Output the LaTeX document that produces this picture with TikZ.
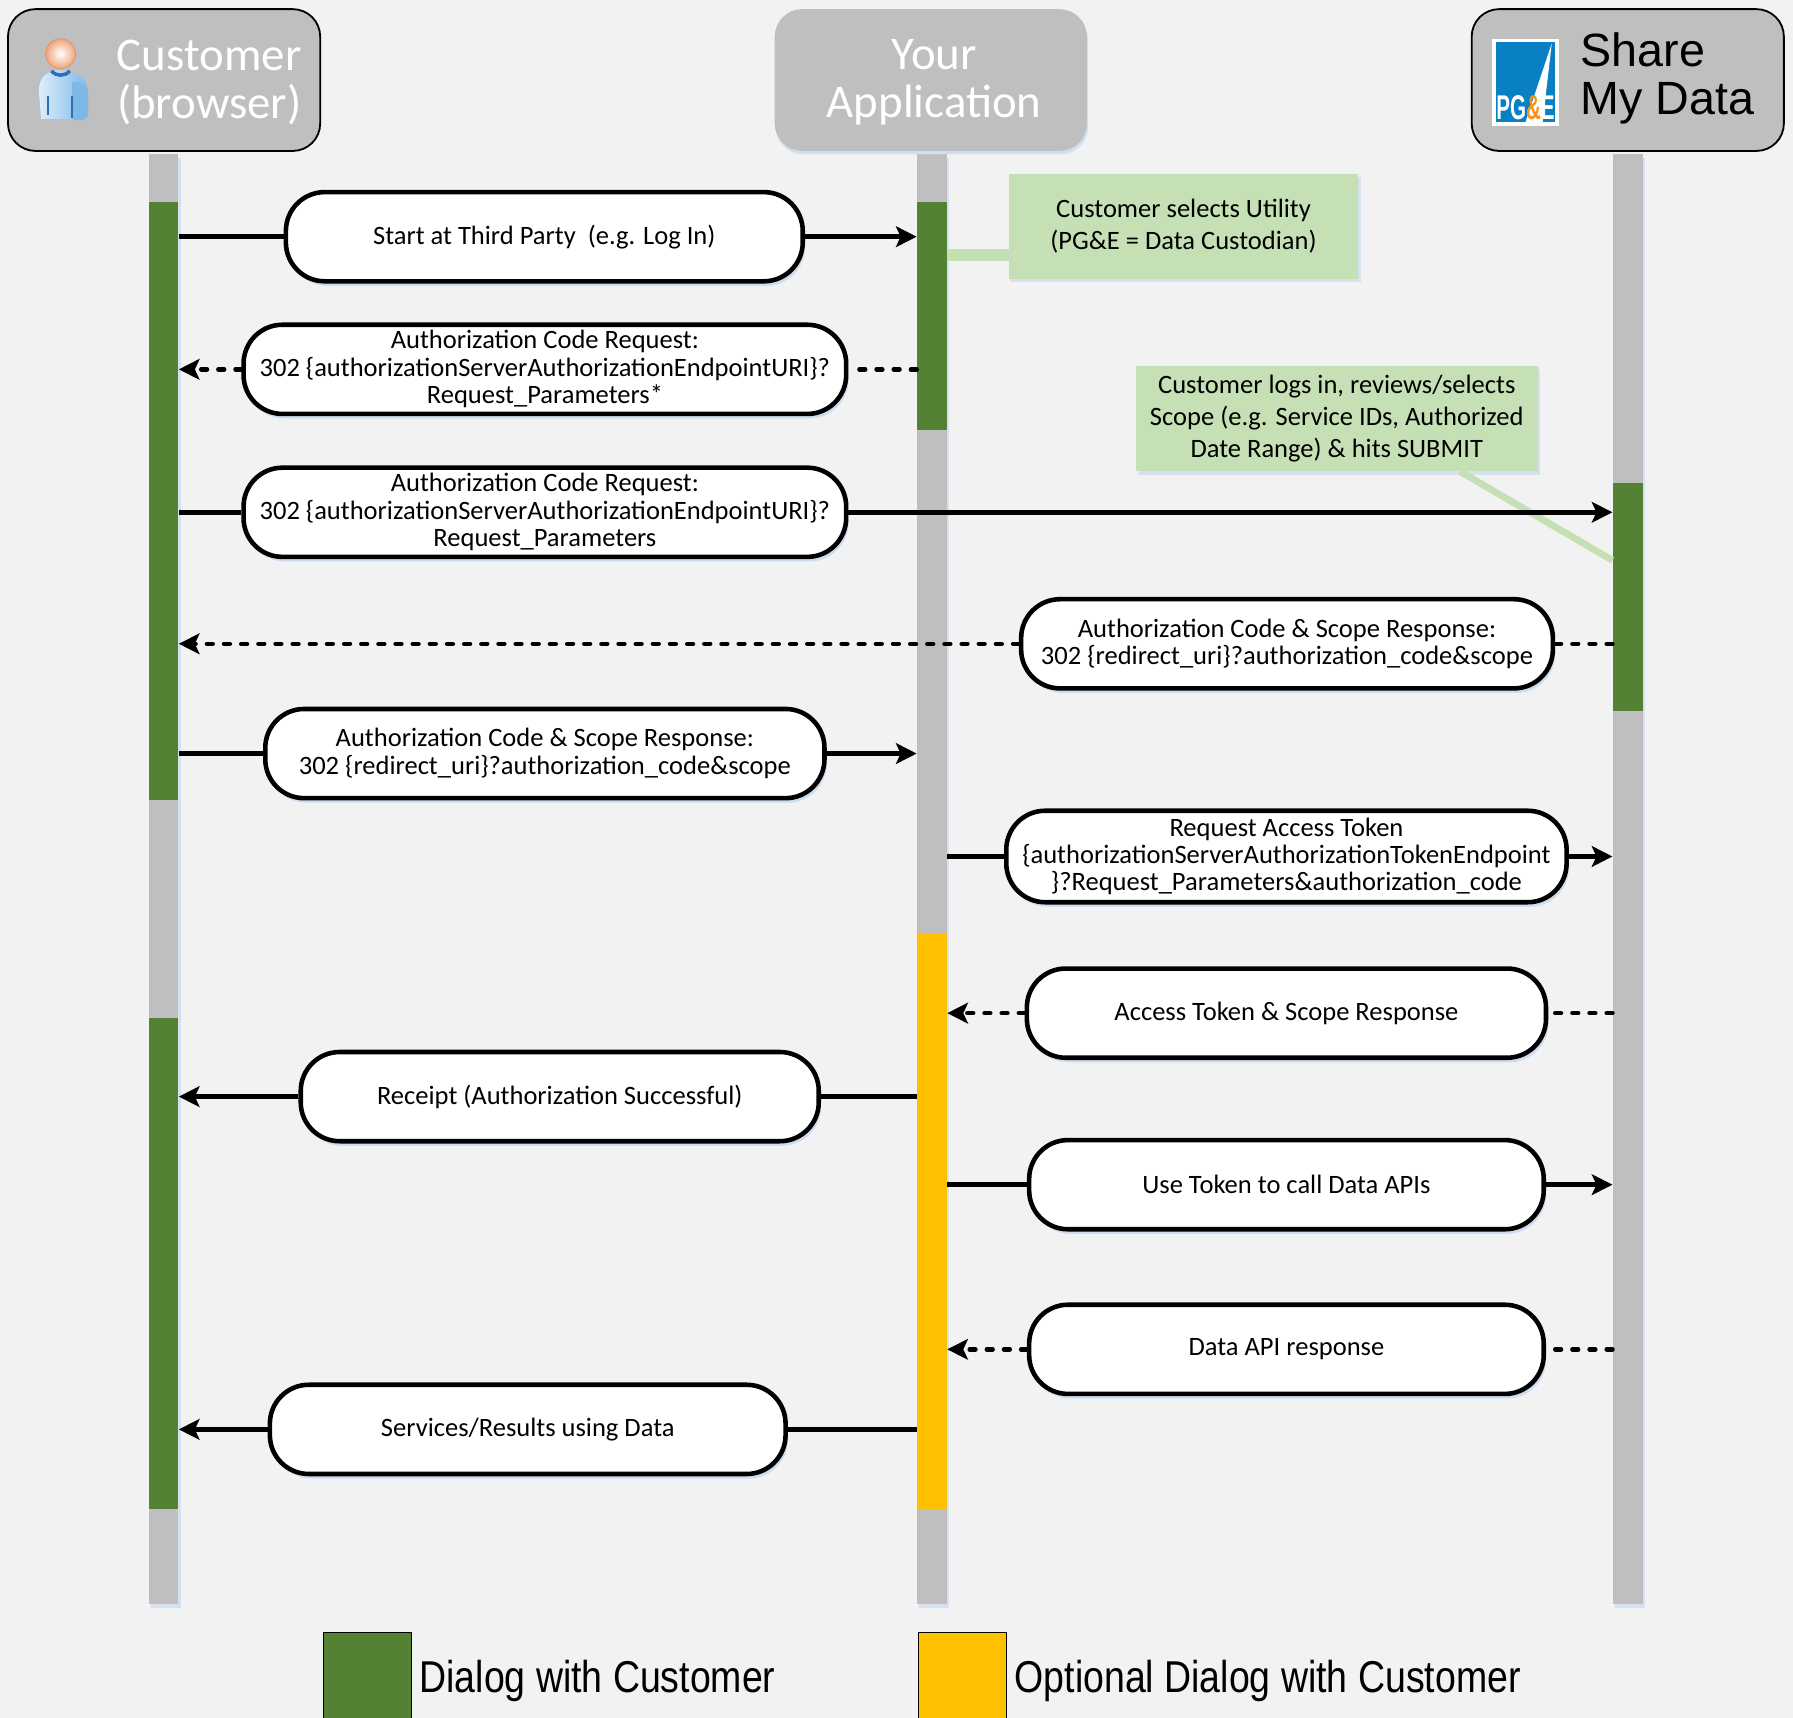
\documentclass[tikz,border=0pt]{standalone}
\usepackage{fontspec}
\setmainfont{Carlito}
\newfontfamily\arialfont{Liberation Sans}
\usepackage{graphicx}
\usepackage{xcolor}
\usepackage{tikz}
\usetikzlibrary{arrows.meta}
\usetikzlibrary{shadows}
\definecolor{bggray}{HTML}{F2F2F2}
\definecolor{lifegray}{HTML}{BFBFBF}
\definecolor{dlgreen}{HTML}{548235}
\definecolor{optyellow}{HTML}{FFC000}
\definecolor{notegreen}{HTML}{C5E0B4}
\definecolor{shadowblue}{HTML}{C9DAEE}
\definecolor{pgeblue}{HTML}{0A80C4}
\definecolor{pgeorange}{HTML}{F7941D}
\definecolor{iconlight}{HTML}{DCEEFB}
\definecolor{iconmid}{HTML}{7DB8E8}
\definecolor{icondark}{HTML}{2F6DB5}
\definecolor{headpeach}{HTML}{EFA67E}
\tikzset{
	lifeline/.style={fill=lifegray, minimum width=13pt, inner sep=0pt, drop shadow={shadow xshift=1pt, shadow yshift=-1.5pt, fill=shadowblue, opacity=0.7}},
	actbar/.style={minimum width=13pt, inner sep=0pt},
	header/.style={fill=lifegray, rounded corners=12pt, minimum width=136.5pt, minimum height=62pt, inner sep=0pt},
	headtext/.style={align=center, inner sep=0pt, font=\fontsize{20.5}{21}\selectfont},
	msgbox/.style={draw, line width=2pt, fill=white, rounded corners=17pt, minimum height=39pt, inner sep=1pt, align=center, font=\fontsize{11.6}{12}\selectfont, drop shadow={shadow xshift=1pt, shadow yshift=-2pt, fill=shadowblue, opacity=0.9}},
	msg/.style={line width=2pt, draw=black},
	reply/.style={msg, dash pattern=on 2.5pt off 5pt, line cap=round},
	tip/.style={-{Stealth[length=9pt, width=9pt, inset=2pt]}},
	notebox/.style={fill=notegreen, inner sep=0pt, minimum height=46pt, align=center, font=\fontsize{11.6}{14}\selectfont, drop shadow={shadow xshift=1pt, shadow yshift=-1.5pt, fill=shadowblue, opacity=0.7}},
	noteline/.style={draw=notegreen},
	legbox/.style={draw=black, line width=0.5pt, minimum width=38.5pt, minimum height=42pt, inner sep=0pt},
	legtext/.style={anchor=west, inner sep=3pt, font=\arialfont\fontsize{19.5}{20}\selectfont}
}
\begin{document}
\begin{tikzpicture}[x=0.5pt, y=-0.5pt]
	\useasboundingbox (0,0) rectangle (1568,1502);
	\fill[bggray] (0,0) rectangle (1568,1502);
	\node[lifeline, minimum height=634pt] (cul) at (143,769) {};
	\node[lifeline, minimum height=634pt] (apl) at (815,769) {};
	\node[lifeline, minimum height=634pt] (sml) at (1423.5,769) {};
	\node[actbar, fill=dlgreen, minimum height=261.5pt] (cuA) at (143,438.5) {};
	\node[actbar, fill=dlgreen, minimum height=215pt] (cuB) at (143,1105) {};
	\node[actbar, fill=dlgreen, minimum height=99.5pt] (apA) at (815,276.5) {};
	\node[actbar, fill=optyellow, minimum height=251.5pt] (apB) at (815,1068.5) {};
	\node[actbar, fill=dlgreen, minimum height=100pt] (smA) at (1423.5,522) {};
	\node[header, draw=black, line width=0.8pt] (cuhead) at (143.5,70) {};
	\node[header, drop shadow={shadow xshift=0.5pt, shadow yshift=-1.5pt, fill=shadowblue, opacity=0.8}] (aphead) at (814,70) {};
	\node[header, draw=black, line width=0.8pt] (smhead) at (1423.5,70) {};
	\node[headtext, text=white] (cutext) at (183,72) {Customer\\(browser)};
	\node[headtext, text=white] (aptext) at (817,72) {Your\\Application};
	\node[headtext, align=left, anchor=west, font=\arialfont\fontsize{20.4}{21}\selectfont] (smtext) at (1382,69) {Share\\My Data};
	\shade[left color=iconlight, right color=iconmid] (36,104) -- (34,80) .. controls (34,66) and (42,62) .. (53,61) .. controls (64,62) and (76,66) .. (77,80) -- (77,98) .. controls (77,106) and (70,106) .. (62,104) -- cycle;
	\fill[iconmid] (63,72) .. controls (72,70) and (77,76) .. (77,86) -- (77,98) .. controls (77,106) and (68,106) .. (63,104) -- cycle;
	\draw[icondark, line width=1.5pt] (45,62) .. controls (49,67) and (57,67) .. (61,62);
	\draw[icondark, line width=1pt] (42,84) -- (42,101);
	\draw[icondark, line width=0.8pt] (63,84) -- (63,103);
	\shade[inner color=white, outer color=headpeach] (53,47) circle (13);
	\draw[headpeach!60!brown, line width=0.4pt] (53,47) circle (13);
	\fill[white] (1305,34) rectangle (1363,110);
	\fill[pgeblue] (1308,37) rectangle (1360,107);
	\fill[white] (1357,38) -- (1349,107) -- (1334,107) -- cycle;
	\node[inner sep=0pt, text=white, font=\arialfont\bfseries\fontsize{15}{15}\selectfont] (pge) at (1334,94) {\scalebox{0.6}[1]{PG\textcolor{pgeorange}{\&}E}};
	\coordinate (n1in) at (882,223);
	\node[notebox, minimum width=153pt] (n1) at (1035,198) {Customer selects Utility\\(PG\&E = Data Custodian)};
	\node[notebox, minimum width=176pt] (n2) at (1169,366) {Customer logs in, reviews/selects\\Scope (e.g. Service IDs, Authorized\\Date Range) \& hits SUBMIT};
	\coordinate (n2out) at ([xshift=54pt]n2.south);
	\coordinate (n2in) at ([yshift=16pt]smA.west);
	\draw[noteline, line width=5pt] (apl.east |- n1in) -- (n1in);
	\draw[noteline, line width=3pt] (n2out) -- (n2in);
	\node[msgbox, minimum width=226pt] (m1) at (476,207) {Start at Third Party\ \ (e.g. Log In)};
	\draw[msg] (cul.east |- m1) -- (m1);
	\draw[msg, tip] (m1) -- (apl.west |- m1);
	\node[msgbox, minimum width=263.5pt] (m2) at (476.5,323) {Authorization Code Request:\\302 \{authorizationServerAuthorizationEndpointURI\}?\\Request\_Parameters*};
	\draw[reply] (apl.west |- m2) -- (m2);
	\draw[reply, tip] (m2) -- (cul.east |- m2);
	\node[msgbox, minimum width=263.5pt] (m3) at (476.5,448) {Authorization Code Request:\\302 \{authorizationServerAuthorizationEndpointURI\}?\\Request\_Parameters};
	\draw[msg] (cul.east |- m3) -- (m3);
	\draw[msg, tip] (m3) -- (sml.west |- m3);
	\node[msgbox, minimum width=232.5pt] (m4) at (1125.5,563) {Authorization Code \& Scope Response:\\302 \{redirect\_uri\}?authorization\_code\&scope};
	\draw[reply] (sml.west |- m4) -- (m4);
	\draw[reply, tip] (m4) -- (cul.east |- m4);
	\node[msgbox, minimum width=244.5pt] (m5) at (476.5,659) {Authorization Code \& Scope Response:\\302 \{redirect\_uri\}?authorization\_code\&scope};
	\draw[msg] (cul.east |- m5) -- (m5);
	\draw[msg, tip] (m5) -- (apl.west |- m5);
	\node[msgbox, minimum width=245pt, minimum height=40pt] (m6) at (1125,749) {Request Access Token\\\{authorizationServerAuthorizationTokenEndpoint\\\}?Request\_Parameters\&authorization\_code};
	\draw[msg] (apl.east |- m6) -- (m6);
	\draw[msg, tip] (m6) -- (sml.west |- m6);
	\node[msgbox, minimum width=227pt] (m7) at (1125,886) {Access Token \& Scope Response};
	\draw[reply] (sml.west |- m7) -- (m7);
	\draw[reply, tip] (m7) -- (apl.east |- m7);
	\node[msgbox, minimum width=226.5pt] (m8) at (489.5,959) {Receipt (Authorization Successful)};
	\draw[msg] (apl.west |- m8) -- (m8);
	\draw[msg, tip] (m8) -- (cul.east |- m8);
	\node[msgbox, minimum width=225pt] (m9) at (1125,1036) {Use Token to call Data APIs};
	\draw[msg] (apl.east |- m9) -- (m9);
	\draw[msg, tip] (m9) -- (sml.west |- m9);
	\node[msgbox, minimum width=225pt] (m10) at (1125,1180) {Data API response};
	\draw[reply] (sml.west |- m10) -- (m10);
	\draw[reply, tip] (m10) -- (apl.east |- m10);
	\node[msgbox, minimum width=225.5pt] (m11) at (461.5,1250) {Services/Results using Data};
	\draw[msg] (apl.west |- m11) -- (m11);
	\draw[msg, tip] (m11) -- (cul.east |- m11);
	\node[legbox, fill=dlgreen] (leg1) at (321.5,1470) {};
	\node[legtext] (leg1t) at (leg1.east) {\scalebox{0.84}[1]{Dialog with Customer}};
	\node[legbox, fill=optyellow] (leg2) at (842,1470) {};
	\node[legtext] (leg2t) at (leg2.east) {\scalebox{0.84}[1]{Optional Dialog with Customer}};
\end{tikzpicture}
\end{document}
